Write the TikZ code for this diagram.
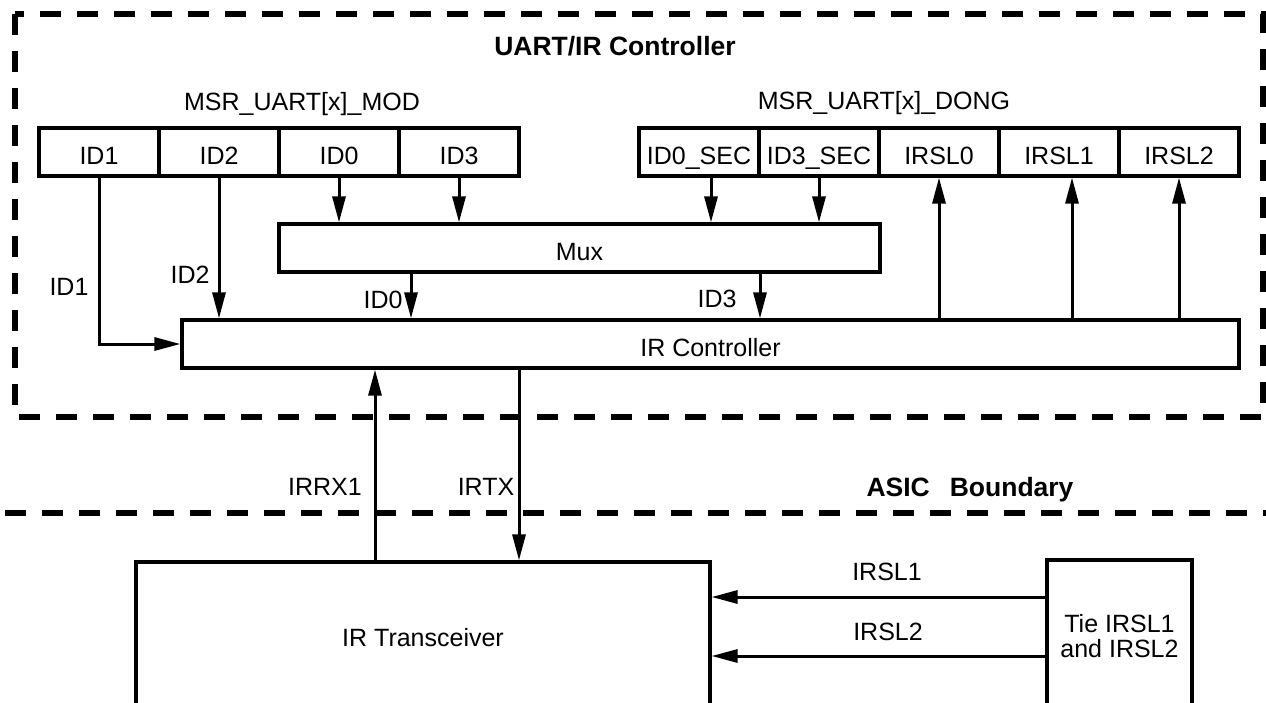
\documentclass[tikz,border=0pt]{standalone}
\usepackage{fontspec}
\setmainfont{Liberation Sans}
\usetikzlibrary{arrows.meta,calc}
\begin{document}
\begin{tikzpicture}[x=1pt,y=-1pt,
  txt/.style={font=\fontsize{25}{25}\selectfont},
  plainbox/.style={draw,line width=3.2pt,inner sep=0pt,txt},
  box/.style={plainbox,text height=24pt,text depth=0pt},
  cell/.style={box,minimum width=120pt,minimum height=48pt},
  lbl/.style={inner sep=0pt,anchor=base,txt},
  boldlbl/.style={inner sep=0pt,anchor=base,font=\fontsize{26.5}{30}\selectfont\bfseries},
  sig/.style={line width=3pt,-{Triangle[length=26pt,width=13pt]}},
  bound/.style={line width=6pt,dash pattern=on 21pt off 16pt}]
\useasboundingbox (0,0) rectangle (1266,702);
\clip (0,0) rectangle (1266,702);
\fill[white] (0,0) rectangle (1266,702);

% boundaries
\draw[bound] (15,14) rectangle (1263,417);
\draw[bound] (5,513) -- (1270,513);

% register cells
\node[cell] (id1) at (99,152) {ID1};
\node[cell] (id2) at (219,152) {ID2};
\node[cell] (id0) at (339,152) {ID0};
\node[cell] (id3) at (459,152) {ID3};
\node[cell] (d0s) at (699,152) {ID0\_SEC};
\node[cell] (d3s) at (819,152) {ID3\_SEC};
\node[cell] (sl0) at (939,152) {IRSL0};
\node[cell] (sl1) at (1059,152) {IRSL1};
\node[cell] (sl2) at (1179,152) {IRSL2};

% blocks
\node[box,minimum width=601pt,minimum height=48pt] (mux) at (579.5,248) {Mux};
\node[box,minimum width=1057pt,minimum height=48pt] (irc) at (710.5,344) {IR Controller};
\node[plainbox,minimum width=574pt,minimum height=152pt] (xcvr) at (423,638) {IR Transceiver};
\node[plainbox,minimum width=145pt,minimum height=152pt,align=center] (tie) at (1119.5,636) {Tie IRSL1\\and IRSL2};

% labels
\node[boldlbl] (title) at (615,55) {UART/IR Controller};
\node[lbl] (modl) at (302,110) {MSR\_UART[x]\_MOD};
\node[lbl] (dongl) at (884,109) {MSR\_UART[x]\_DONG};
\node[lbl] (l1) at (69,295) {ID1};
\node[lbl] (l2) at (190,283) {ID2};
\node[lbl] (l0) at (383,308) {ID0};
\node[lbl] (l3) at (717,307) {ID3};
\node[lbl] (lrx) at (325,495) {IRRX1};
\node[lbl] (ltx) at (486,495) {IRTX};
\node[boldlbl] (asic) at (970,496) {ASIC\hspace{20pt}Boundary};
\node[lbl] (ls1) at (887,580) {IRSL1};
\node[lbl] (ls2) at (888,640) {IRSL2};

% connectors
\draw[sig] (id1.south) |- (irc.west);
\draw[sig] (id2.south) -- (id2.south |- irc.north);
\draw[sig] (id0.south) -- (id0.south |- mux.north);
\draw[sig] (id3.south) -- (id3.south |- mux.north);
\draw[sig] ([xshift=12pt]d0s.south) -- ([xshift=12pt]d0s.south |- mux.north);
\draw[sig] (d3s.south) -- (d3s.south |- mux.north);
\draw[sig] ([xshift=-168.5pt]mux.south) -- ([xshift=-168.5pt]mux.south |- irc.north);
\draw[sig] ([xshift=180.5pt]mux.south) -- ([xshift=180.5pt]mux.south |- irc.north);
\draw[sig] (sl0.south |- irc.north) -- (sl0.south);
\draw[sig] ([xshift=13pt]sl1.south |- irc.north) -- ([xshift=13pt]sl1.south);
\draw[sig] (sl2.south |- irc.north) -- (sl2.south);
\draw[sig] ([xshift=-48pt]xcvr.north) -- ([xshift=-48pt]xcvr.north |- irc.south);
\draw[sig] ([xshift=96pt]xcvr.north |- irc.south) -- ([xshift=96pt]xcvr.north);
\draw[sig] ([yshift=39pt]tie.west) -- ([yshift=39pt]tie.west -| xcvr.east);
\draw[sig] ([yshift=-20pt]tie.west) -- ([yshift=-20pt]tie.west -| xcvr.east);
\end{tikzpicture}
\end{document}
